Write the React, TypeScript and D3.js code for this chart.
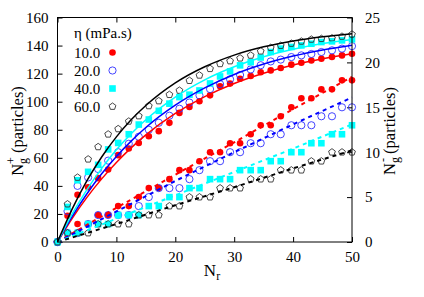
import React, { useEffect, useRef } from "react";
import * as d3 from "d3";

// sampling points on Nr
const nr = [0, 1.7, 3.4, 5.2, 6.9, 8.6, 10.3, 12.1, 13.8, 15.5, 17.2, 19.0, 20.7, 22.4, 24.1, 25.9, 27.6, 29.3, 31.0, 32.8, 34.5, 36.2, 37.9, 39.7, 41.4, 43.1, 44.8, 46.6, 48.3, 50.0];

// N_g^+ (left axis)
const plus10 = [0, 18.7, 33.6, 39, 45.5, 51.7, 61.9, 66.6, 70.6, 75.4, 79, 84.9, 92, 96.3, 100.3, 104.5, 111, 112.9, 116.4, 118.3, 121, 122.3, 124, 126.4, 127.8, 129.4, 130.6, 131.8, 133, 134.2];
const plus20 = [0, 22, 40, 46, 52, 58, 64, 70, 75, 80, 85, 90, 95, 99.4, 104.5, 109, 112.5, 116, 119, 123, 126, 128.7, 130, 131.8, 133, 134, 135.4, 136.6, 137.8, 139.6];
const plus40 = [0, 25, 44, 50, 55, 66, 70.6, 76.8, 83.7, 87.3, 93.5, 98.6, 103.3, 105, 108, 113, 118, 121.6, 125.9, 128.2, 131.5, 135.4, 137.8, 139, 140.1, 141.3, 142.5, 143, 143.7, 144.4];
const plus60 = [0, 27, 46, 59, 67.8, 76.8, 80.6, 86, 89.8, 97, 100.5, 105, 108, 115, 118.8, 123.5, 127, 129, 131, 133, 136, 138.5, 140, 141.5, 143, 144.4, 144.9, 145.3, 146.5, 148];

// N_g^- (right axis)
const minus10 = [0, 1, 2, 2, 3, 3, 4, 4, 5, 6, 6, 7, 8, 8, 9, 10, 10, 11, 11, 12, 13, 13, 14, 15, 16, 16, 17, 17, 18, 18];
const minus20 = [0, 1, 1, 2, 3, 3, 3, 3, 4, 5, 6, 6, 6, 7, 8, 9, 9, 10, 10, 11, 11, 12, 12, 13, 13, 13, 14, 14, 15, 15];
const minus40 = [0, 1, 1, 2, 2, 2, 3, 3, 3, 4, 4, 5, 5, 6, 6, 7, 7, 7, 8, 8, 8, 9, 9, 10, 10, 11, 11, 12, 12, 13];
const minus60 = [0, 1, 1, 1, 2, 2, 2, 2, 3, 3, 3, 4, 4, 5, 5, 5, 6, 6, 6, 7, 7, 7, 8, 8, 8, 9, 9, 10, 10, 10];

// fitted curves (solid, left axis)
const fitNr = [0, 2.5, 5, 7.5, 10, 12.5, 15, 20, 25, 30, 35, 40, 45, 50];
const fit10 = [0, 16.9, 31.8, 45.0, 56.7, 67.1, 76.3, 91.6, 103.6, 113.0, 120.3, 126.1, 130.6, 134.2];
const fit20 = [0, 18.3, 34.4, 48.6, 61.0, 71.9, 81.6, 97.5, 109.8, 119.4, 126.8, 132.5, 136.9, 140.3];
const fit40 = [0, 20.0, 37.3, 52.5, 65.7, 77.1, 87.1, 103.3, 115.6, 124.9, 132.0, 137.3, 141.4, 144.4];
const fit60 = [0, 23.6, 43.7, 60.6, 74.9, 87.1, 97.3, 113.4, 124.9, 133.2, 139.1, 143.3, 146.3, 148.5];

// dashed lines (right axis)
const dashNr = [0, 10, 20, 30, 40, 50];
const dash10 = [0, 3.8, 7.5, 11.1, 14.8, 18.4];
const dash20 = [0, 3.4, 6.8, 10.0, 13.1, 16.1];
const dash40 = [0, 2.6, 5.2, 7.8, 10.4, 13.1];
const dash60 = [0, 2.0, 4.1, 6.1, 8.2, 10.2];

const xTicks = [0, 10, 20, 30, 40, 50];
const yLTicks = [0, 20, 40, 60, 80, 100, 120, 140, 160];
const yRTicks = [0, 5, 10, 15, 20, 25];

const series = [
  { label: "10.0", plus: plus10, minus: minus10, fit: fit10, dash: dash10, color: "#ff0000", mark: "dot" },
  { label: "20.0", plus: plus20, minus: minus20, fit: fit20, dash: dash20, color: "#0000ff", mark: "ring" },
  { label: "40.0", plus: plus40, minus: minus40, fit: fit40, dash: dash40, color: "#00ffff", mark: "square" },
  { label: "60.0", plus: plus60, minus: minus60, fit: fit60, dash: dash60, color: "#000000", mark: "pent" },
];

// open pentagon marker
const pentagon = {
  draw(ctx: any, size: number) {
    const r = Math.sqrt(size / 2.38);
    for (let k = 0; k < 5; k++) {
      const a = -Math.PI / 2 + (k * 2 * Math.PI) / 5;
      if (k === 0) ctx.moveTo(r * Math.cos(a), r * Math.sin(a));
      else ctx.lineTo(r * Math.cos(a), r * Math.sin(a));
    }
    ctx.closePath();
  },
};

function addMark(g: any, kind: string, color: string, px: number, py: number) {
  if (kind === "dot") {
    g.append("circle").attr("cx", px).attr("cy", py).attr("r", 3.3).attr("fill", color);
  } else if (kind === "ring") {
    g.append("circle").attr("cx", px).attr("cy", py).attr("r", 3.6)
      .attr("fill", "none").attr("stroke", "#3030ff").attr("stroke-width", 0.9);
  } else if (kind === "square") {
    g.append("rect").attr("x", px - 3.3).attr("y", py - 3.3).attr("width", 6.6).attr("height", 6.6).attr("fill", color);
  } else {
    g.append("path").attr("transform", `translate(${px},${py})`)
      .attr("d", d3.symbol(pentagon as any, 30)())
      .attr("fill", "none").attr("stroke", "#333").attr("stroke-width", 0.9);
  }
}

export default function App() {
  const ref = useRef<SVGSVGElement>(null);

  useEffect(() => {
    const svg = d3.select(ref.current);
    svg.selectAll("*").remove();

    const left = 57.5, right = 352, top = 17.5, bottom = 242;
    const x = d3.scaleLinear().domain([0, 50]).range([left, right]);
    const yL = d3.scaleLinear().domain([0, 160]).range([bottom, top]);
    const yR = d3.scaleLinear().domain([0, 25]).range([bottom, top]);

    const styleAxis = (g: any) => {
      g.attr("font-family", null).attr("font-size", 15);
      g.select(".domain").remove();
      g.selectAll("line").attr("stroke", "#000");
      g.selectAll("text").attr("fill", "#000");
    };

    svg.append("g").attr("transform", `translate(0,${bottom})`)
      .call(d3.axisBottom(x).tickValues(xTicks).tickSize(-5).tickPadding(9))
      .call(styleAxis);
    svg.append("g").attr("transform", `translate(0,${top})`)
      .call(d3.axisTop(x).tickValues(xTicks).tickSize(-5).tickFormat(() => ""))
      .call(styleAxis);
    svg.append("g").attr("transform", `translate(${left},0)`)
      .call(d3.axisLeft(yL).tickValues(yLTicks).tickSize(-5).tickPadding(9))
      .call(styleAxis);
    svg.append("g").attr("transform", `translate(${right},0)`)
      .call(d3.axisRight(yR).tickValues(yRTicks).tickSize(-5).tickPadding(13))
      .call(styleAxis);

    const plot = svg.append("g");

    // lower set: markers then dashed lines
    series.forEach((s) => {
      s.minus.forEach((v, i) => addMark(plot, s.mark, s.color, x(nr[i]), yR(v)));
    });
    series.forEach((s) => {
      const line = d3.line<number>().x((_, i) => x(dashNr[i])).y((d) => yR(d));
      plot.append("path").attr("d", line(s.dash)).attr("fill", "none")
        .attr("stroke", s.color).attr("stroke-width", 2).attr("stroke-dasharray", "4,4");
    });

    // upper set: markers then fitted curves
    series.forEach((s) => {
      s.plus.forEach((v, i) => addMark(plot, s.mark, s.color, x(nr[i]), yL(v)));
    });
    series.forEach((s) => {
      const line = d3.line<number>().x((_, i) => x(fitNr[i])).y((d) => yL(d)).curve(d3.curveMonotoneX);
      plot.append("path").attr("d", line(s.fit)).attr("fill", "none")
        .attr("stroke", s.color).attr("stroke-width", 1.5);
    });

    svg.append("rect").attr("x", left).attr("y", top).attr("width", right - left).attr("height", bottom - top)
      .attr("fill", "none").attr("stroke", "#000").attr("stroke-width", 1);

    // legend
    const lg = svg.append("g").attr("font-size", 15).attr("fill", "#000");
    lg.append("text").attr("x", 74).attr("y", 37.5).text("η (mPa.s)");
    series.forEach((s, i) => {
      const yy = 57.5 + i * 18;
      lg.append("text").attr("x", 74).attr("y", yy).text(s.label);
      addMark(lg, s.mark, s.color, 112.5, yy - 5);
    });

    // axis titles
    const t1 = svg.append("text").attr("font-size", 16.5)
      .attr("text-anchor", "middle").attr("transform", "translate(23,131) rotate(-90)");
    t1.append("tspan").text("N");
    t1.append("tspan").attr("font-size", 12).attr("dy", 4).text("g");
    t1.append("tspan").attr("font-size", 12).attr("dx", -6).attr("dy", -12).text("+");
    t1.append("tspan").attr("dy", 8).text(" (particles)");

    const t2 = svg.append("text").attr("font-size", 16.5)
      .attr("text-anchor", "middle").attr("transform", "translate(395,131) rotate(-90)");
    t2.append("tspan").text("N");
    t2.append("tspan").attr("font-size", 12).attr("dy", 4).text("g");
    t2.append("tspan").attr("font-size", 12).attr("dx", -5).attr("dy", -12).text("-");
    t2.append("tspan").attr("dy", 8).text(" (particles)");

    const t3 = svg.append("text").attr("font-size", 17)
      .attr("text-anchor", "middle").attr("x", 212).attr("y", 276);
    t3.append("tspan").text("N");
    t3.append("tspan").attr("font-size", 12).attr("dy", 4).text("r");
  }, []);

  return (
    <svg ref={ref} width={424} height={297}
      style={{ position: "absolute", left: 0, top: 0, background: "#fff", fontFamily: "'Liberation Serif', serif" }} />
  );
}
